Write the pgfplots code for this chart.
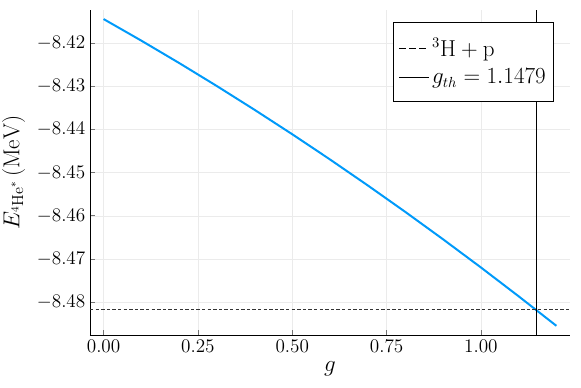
\documentclass[border=0pt]{standalone}
\usepackage{pgfplots}
\pgfplotsset{compat=1.18}
\definecolor{jblue}{RGB}{0,154,250}
\begin{document}
\begin{tikzpicture}
\begin{axis}[name=ax, scale only axis, width=360pt, height=243.75pt,
    xmin=-0.036, xmax=1.236, ymin=-8.4876, ymax=-8.4123,
    axis x line*=bottom, axis y line*=left, axis line style={-, black, line width=0.6pt},
    xtick={0,0.25,0.5,0.75,1}, ytick={-8.48,-8.47,-8.46,-8.45,-8.44,-8.43,-8.42},
    scaled ticks=false,
    xticklabel style={/pgf/number format/.cd, fixed, fixed zerofill, precision=2},
    yticklabel style={/pgf/number format/.cd, fixed, fixed zerofill, precision=2},
    tick label style={font=\fontsize{13.5}{15}\selectfont},
    tick align=inside, major tick length=3.5pt, tick style={black!55, line width=0.6pt},
    grid=major, grid style={black!8, line width=0.4pt},
    xlabel={$g$}, ylabel={$E_{{}^{4}\mathrm{He}^{*}}\,(\mathrm{MeV})$},
    label style={font=\fontsize{17}{19}\selectfont}, ylabel shift=2pt,
    legend style={at={(0.967,0.963)}, anchor=north east, font=\fontsize{16}{18}\selectfont,
        draw=black, line width=0.6pt, inner xsep=4pt, inner ysep=10pt, row sep=4pt},
    legend cell align=left]
\addplot[jblue, line width=1.5pt, forget plot] coordinates {
(0,-8.41440) (0.1,-8.41940) (0.2,-8.42457) (0.3,-8.42991) (0.4,-8.43542)
(0.5,-8.44109) (0.6,-8.44693) (0.7,-8.45294) (0.8,-8.45911) (0.9,-8.46545)
(1.0,-8.47196) (1.1,-8.47864) (1.2,-8.48548)};
\addplot[black!80, line width=0.6pt, dash pattern=on 2.6pt off 1.6pt,
    legend image code/.code={\draw[black, line width=1.2pt, dash pattern=on 5pt off 2.5pt] (0pt,0pt) -- (22pt,0pt);}]
    coordinates {(-0.036,-8.4816) (1.236,-8.4816)};
\addplot[black, line width=0.6pt,
    legend image code/.code={\draw[black, line width=0.9pt] (0pt,0pt) -- (22pt,0pt);}]
    coordinates {(1.1479,-8.4876) (1.1479,-8.4123)};
\legend{${}^{3}\mathrm{H}+\mathrm{p}$, $g_{th}=1.1479$}
\end{axis}
\pgfresetboundingbox
\path ([shift={(-67.5pt,-39.75pt)}]ax.south west) rectangle ([shift={(8.25pt,7.5pt)}]ax.north east);
\end{tikzpicture}
\end{document}
